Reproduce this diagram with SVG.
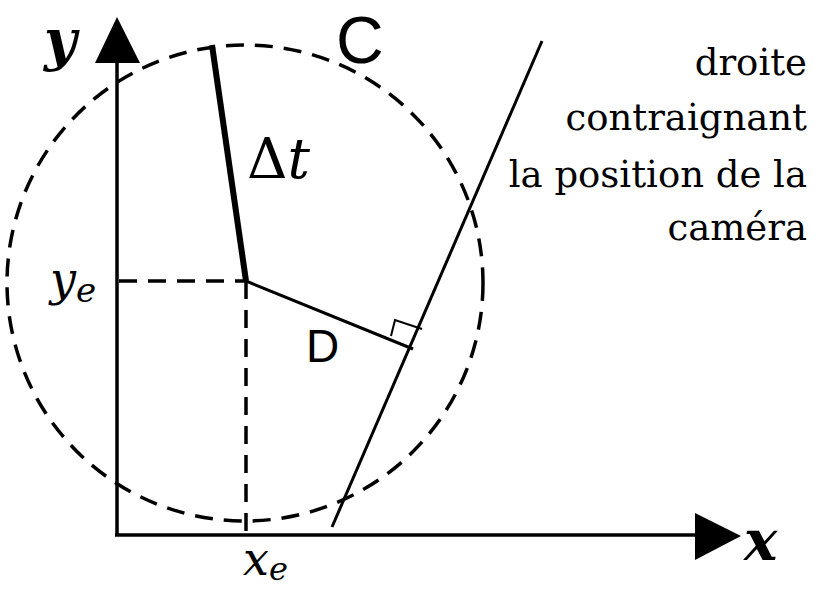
<svg xmlns="http://www.w3.org/2000/svg" width="815" height="590" viewBox="0 0 815 590">
<style>
.ax{stroke:#000;stroke-width:3.5;fill:none}
.ln{stroke:#000;stroke-width:3;fill:none}
.dash{stroke:#000;stroke-width:3.5;fill:none;stroke-dasharray:18 11}
text{fill:#000}
</style>
<rect width="815" height="590" fill="#fff"/>
<g id="circle">
<circle class="dash" cx="245" cy="283" r="238"/>
</g>
<g id="axes">
<line class="ax" x1="117" y1="60" x2="117" y2="535"/>
<line class="ax" x1="115" y1="535" x2="698" y2="535"/>
<polygon points="117,17 95,63 140,63" fill="#000"/>
<polygon points="741,536 695,513 695,560" fill="#000"/>
</g>
<g id="connectors">
<line class="dash" x1="119" y1="281" x2="246" y2="281"/>
<line class="dash" x1="246" y1="281" x2="246" y2="533"/>
<line x1="212" y1="45" x2="246" y2="281" stroke="#000" stroke-width="6"/>
<line class="ln" x1="246" y1="281" x2="413" y2="349"/>
<line class="ln" x1="542" y1="41" x2="332" y2="527"/>
<polyline points="391,336 395,320 422,329" stroke="#000" stroke-width="2" fill="none"/>
</g>
<g id="labels">
<text font-family="'DejaVu Serif', serif" x="44" y="60" font-size="56" font-style="italic" font-weight="bold">y</text>
<text font-family="'DejaVu Serif', serif" x="744" y="560" font-size="56" font-style="italic" font-weight="bold">x</text>
<text font-family="'Liberation Sans', sans-serif" x="336" y="63" font-size="66">C</text>
<text font-family="'DejaVu Serif', serif" x="247" y="178" font-size="56">Δ<tspan font-style="italic">t</tspan></text>
<text font-family="'Liberation Sans', sans-serif" x="306" y="362" font-size="46">D</text>
<text font-family="'DejaVu Serif', serif" x="50" y="295" font-size="46" font-style="italic">y<tspan font-size="34" dy="7">e</tspan></text>
<text font-family="'DejaVu Serif', serif" x="243" y="575" font-size="46" font-style="italic">x<tspan font-size="32" dy="5">e</tspan></text>
</g>
<g id="note" font-family="'DejaVu Serif', serif" font-size="37" text-anchor="end">
<text x="807" y="75">droite</text>
<text x="807" y="130">contraignant</text>
<text x="807" y="187">la position de la</text>
<text x="807" y="240">caméra</text>
</g>
</svg>
